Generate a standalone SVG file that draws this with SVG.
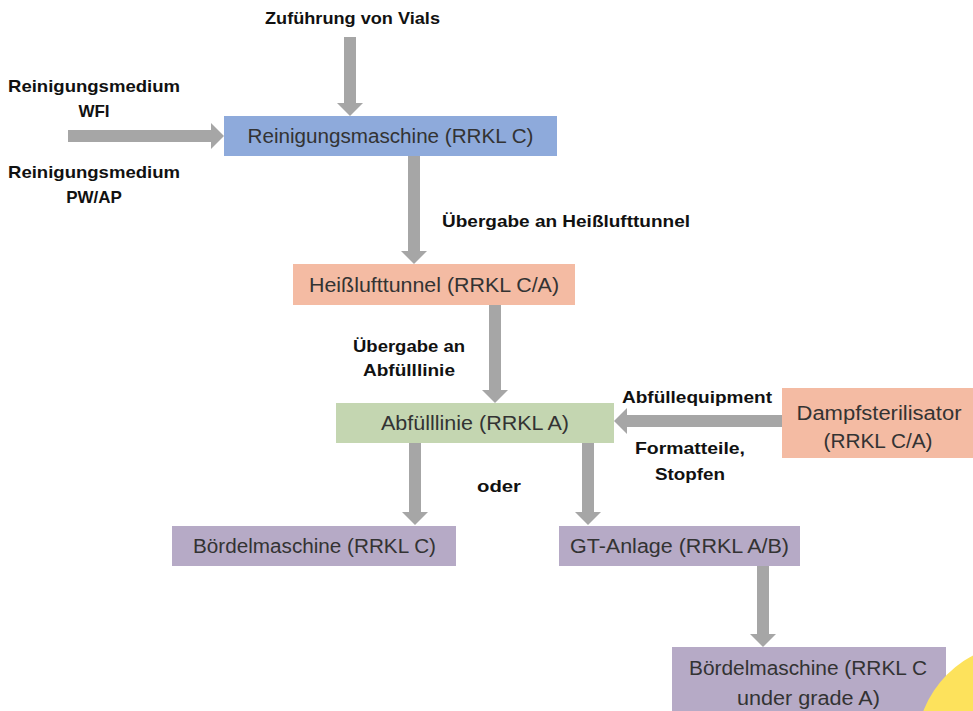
<svg xmlns="http://www.w3.org/2000/svg" width="973" height="711" viewBox="0 0 973 711">
<defs>
<style>
.lbl{font-family:"Liberation Sans",Arial,sans-serif;font-weight:bold;font-size:17px;fill:#111;}
.nt{font-family:"Liberation Sans",Arial,sans-serif;font-size:20px;fill:#333;}
.conn{stroke:#a6a6a6;stroke-width:12;fill:none;marker-end:url(#ah);}
.blue{fill:#8eaadb;}
.salmon{fill:#f4bba3;}
.green{fill:#c4d6b1;}
.purple{fill:#b6aac6;}
</style>
<marker id="ah" viewBox="0 0 13 26" refX="0" refY="13" markerWidth="13" markerHeight="26" markerUnits="userSpaceOnUse" orient="auto">
<path d="M0,0 L13,13 L0,26 z" fill="#a6a6a6"/>
</marker>
</defs>
<rect width="973" height="711" fill="#fff"/>

<g id="connectors">
<line class="conn" x1="350" y1="37" x2="350" y2="103"/>
<line class="conn" x1="68" y1="136" x2="211" y2="136"/>
<line class="conn" x1="414" y1="156" x2="414" y2="251"/>
<line class="conn" x1="495" y1="305" x2="495" y2="390"/>
<line class="conn" x1="782" y1="421" x2="627" y2="421"/>
<line class="conn" x1="415" y1="443" x2="415" y2="512"/>
<line class="conn" x1="588" y1="443" x2="588" y2="512"/>
<line class="conn" x1="763" y1="566" x2="763" y2="634"/>
</g>

<g id="labels">
<text class="lbl" x="352.5" y="24" text-anchor="middle" textLength="175" lengthAdjust="spacingAndGlyphs">Zuführung von Vials</text>
<text class="lbl" x="94" y="92" text-anchor="middle" textLength="172" lengthAdjust="spacingAndGlyphs">Reinigungsmedium</text>
<text class="lbl" x="94" y="117" text-anchor="middle">WFI</text>
<text class="lbl" x="94" y="178" text-anchor="middle" textLength="172" lengthAdjust="spacingAndGlyphs">Reinigungsmedium</text>
<text class="lbl" x="94" y="203" text-anchor="middle">PW/AP</text>
<text class="lbl" x="566" y="227" text-anchor="middle" textLength="248" lengthAdjust="spacingAndGlyphs">Übergabe an Heißlufttunnel</text>
<text class="lbl" x="409" y="352" text-anchor="middle" textLength="112" lengthAdjust="spacingAndGlyphs">Übergabe an</text>
<text class="lbl" x="409" y="376" text-anchor="middle" textLength="92" lengthAdjust="spacingAndGlyphs">Abfülllinie</text>
<text class="lbl" x="697" y="403" text-anchor="middle" textLength="150" lengthAdjust="spacingAndGlyphs">Abfüllequipment</text>
<text class="lbl" x="690" y="454" text-anchor="middle" textLength="110" lengthAdjust="spacingAndGlyphs">Formatteile,</text>
<text class="lbl" x="690" y="480" text-anchor="middle" textLength="70" lengthAdjust="spacingAndGlyphs">Stopfen</text>
<text class="lbl" x="499" y="492" text-anchor="middle" textLength="44" lengthAdjust="spacingAndGlyphs">oder</text>
</g>

<g id="node-reinigungsmaschine">
<rect class="blue" x="224" y="116" width="333" height="40"/>
<text class="nt" x="390.5" y="143" text-anchor="middle" textLength="286" lengthAdjust="spacingAndGlyphs">Reinigungsmaschine  (RRKL C)</text>
</g>

<g id="node-heisslufttunnel">
<rect class="salmon" x="293" y="264" width="282" height="41"/>
<text class="nt" x="434" y="292" text-anchor="middle" textLength="250" lengthAdjust="spacingAndGlyphs">Heißlufttunnel  (RRKL C/A)</text>
</g>

<g id="node-abfuelllinie">
<rect class="green" x="336" y="403" width="278" height="40"/>
<text class="nt" x="475" y="430" text-anchor="middle" textLength="188" lengthAdjust="spacingAndGlyphs">Abfülllinie (RRKL A)</text>
</g>

<g id="node-dampfsterilisator">
<rect class="salmon" x="782" y="388" width="191" height="70"/>
<text class="nt" x="879" y="420" text-anchor="middle" font-size="21" textLength="165" lengthAdjust="spacingAndGlyphs">Dampfsterilisator</text>
<text class="nt" x="878" y="448" text-anchor="middle" font-size="21" textLength="109" lengthAdjust="spacingAndGlyphs">(RRKL C/A)</text>
</g>

<g id="node-boerdelmaschine-1">
<rect class="purple" x="172" y="526" width="284" height="40"/>
<text class="nt" x="314.5" y="553" text-anchor="middle" textLength="243" lengthAdjust="spacingAndGlyphs">Bördelmaschine  (RRKL C)</text>
</g>

<g id="node-gt-anlage">
<rect class="purple" x="559" y="526" width="241" height="40"/>
<text class="nt" x="679.5" y="553" text-anchor="middle" textLength="219" lengthAdjust="spacingAndGlyphs">GT-Anlage (RRKL A/B)</text>
</g>

<g id="node-boerdelmaschine-2">
<rect class="purple" x="672" y="647" width="274" height="70"/>
<text class="nt" x="808" y="675" text-anchor="middle" textLength="238" lengthAdjust="spacingAndGlyphs">Bördelmaschine  (RRKL C</text>
<text class="nt" x="808.5" y="705" text-anchor="middle" textLength="143" lengthAdjust="spacingAndGlyphs">under grade A)</text>
</g>

<circle cx="1023" cy="750" r="107" fill="#fde25c"/>
</svg>
